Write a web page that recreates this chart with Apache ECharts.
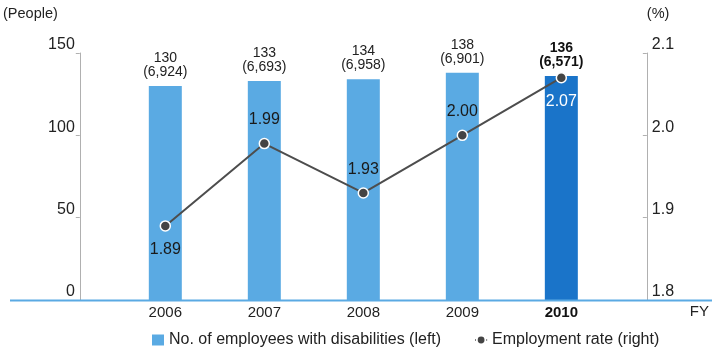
<!DOCTYPE html>
<html>
<head>
<meta charset="utf-8">
<script src="https://cdn.jsdelivr.net/npm/echarts@6/dist/echarts.min.js"></script>
<style>
  html, body { margin: 0; padding: 0; background: #fff; }
  #chart { width: 712px; height: 356px; }
</style>
</head>
<body>
<div id="chart"></div>
<script>
// Fiscal years shown on the category axis
const fiscalYears = ['2006', '2007', '2008', '2009', '2010'];
// Number of employees with disabilities (left axis)
const disabledEmployees = [130, 133, 134, 138, 136];
// Total headcount shown in parentheses under each bar value
const totalEmployees = [6924, 6693, 6958, 6901, 6571];
// Employment rate of people with disabilities, % (right axis)
const employmentRate = [1.89, 1.99, 1.93, 2.00, 2.07];

const FONT = '"Liberation Sans", Arial, sans-serif';
const LIGHT_BLUE = '#5aaae3';
const DARK_BLUE = '#1a74c9';
const lastIdx = fiscalYears.length - 1;
// Where each rate label sits relative to its point
const rateLabelSide = ['bottom', 'top', 'top', 'top', 'bottom'];

const fmtThousands = n => n.toLocaleString('en-US');

const chart = echarts.init(document.getElementById('chart'), null, { renderer: 'canvas' });

const option = {
  backgroundColor: '#ffffff',
  animation: false,
  textStyle: { fontFamily: FONT },
  grid: { left: 114, right: 101, top: 53, bottom: 56 },
  legend: {
    left: 147,
    top: 327,
    itemWidth: 12,
    itemHeight: 11,
    itemGap: 33,
    textStyle: { fontFamily: FONT, fontSize: 16, color: '#222' },
    data: [
      { name: 'No. of employees with disabilities (left)', icon: 'rect' },
      { name: 'Employment rate (right)' }
    ]
  },
  xAxis: {
    type: 'category',
    data: fiscalYears,
    boundaryGap: true,
    axisLine: { show: false },
    axisTick: { show: false },
    axisLabel: {
      margin: 5,
      color: '#222',
      fontSize: 15,
      fontFamily: FONT,
      formatter: (v, i) => i === lastIdx ? '{b|' + v + '}' : v,
      rich: { b: { fontWeight: 'bold', fontSize: 15, color: '#111', fontFamily: FONT } }
    },
    name: 'FY',
    nameLocation: 'end',
    nameGap: 79,
    nameTextStyle: { fontSize: 15, color: '#222', fontFamily: FONT, verticalAlign: 'top', padding: [4, 0, 0, 0] }
  },
  yAxis: [
    {
      type: 'value',
      min: 0,
      max: 150,
      interval: 50,
      offset: 36,
      position: 'left',
      splitLine: { show: false },
      axisLine: { show: true, lineStyle: { color: '#b0b0b0', width: 1 } },
      axisTick: { show: true, length: 4, inside: false, lineStyle: { color: '#b0b0b0' } },
      axisLabel: {
        margin: 5,
        verticalAlign: 'bottom',
        color: '#222',
        fontSize: 16,
        fontFamily: FONT
      },
      name: '(People)',
      nameLocation: 'end',
      nameGap: 32,
      nameTextStyle: { align: 'right', fontSize: 14.5, color: '#222', fontFamily: FONT, padding: [0, 22, 0, 0] }
    },
    {
      type: 'value',
      min: 1.8,
      max: 2.1,
      interval: 0.1,
      offset: 36,
      position: 'right',
      splitLine: { show: false },
      axisLine: { show: true, lineStyle: { color: '#b0b0b0', width: 1 } },
      axisTick: { show: true, length: 4, inside: true, lineStyle: { color: '#b0b0b0' } },
      axisLabel: {
        margin: 5,
        verticalAlign: 'bottom',
        color: '#222',
        fontSize: 16,
        fontFamily: FONT,
        formatter: v => v.toFixed(1)
      },
      name: '(%)',
      nameLocation: 'end',
      nameGap: 32,
      nameTextStyle: { align: 'left', fontSize: 14.5, color: '#222', fontFamily: FONT, padding: [0, 0, 0, 0] }
    }
  ],
  series: [
    {
      name: 'No. of employees with disabilities (left)',
      type: 'bar',
      yAxisIndex: 0,
      barWidth: 33,
      itemStyle: { color: LIGHT_BLUE },
      data: disabledEmployees.map((v, i) => ({
        value: v,
        itemStyle: { color: i === lastIdx ? DARK_BLUE : LIGHT_BLUE }
      })),
      label: {
        show: true,
        position: 'top',
        distance: 7,
        lineHeight: 14,
        formatter: p => {
          const tag = p.dataIndex === lastIdx ? 'b' : 'n';
          return '{' + tag + '|' + p.value + '}\n{' + tag + '|(' + fmtThousands(totalEmployees[p.dataIndex]) + ')}';
        },
        rich: {
          n: { fontSize: 14, color: '#222', fontFamily: FONT, lineHeight: 14 },
          b: { fontSize: 14, color: '#111', fontWeight: 'bold', fontFamily: FONT, lineHeight: 14 }
        }
      }
    },
    {
      name: 'Employment rate (right)',
      type: 'line',
      yAxisIndex: 1,
      symbol: 'circle',
      symbolSize: 10,
      lineStyle: { color: '#4d4d4d', width: 2 },
      itemStyle: { color: '#444', borderColor: '#fff', borderWidth: 1.5 },
      data: employmentRate.map((v, i) => ({
        value: v,
        label: {
          position: rateLabelSide[i],
          color: i === lastIdx ? '#ffffff' : '#1a1a1a'
        }
      })),
      label: {
        show: true,
        distance: 10,
        fontSize: 16,
        fontFamily: FONT,
        formatter: p => p.value.toFixed(2)
      },
      z: 5
    }
  ],
  graphic: [
    {
      type: 'line',
      shape: { x1: 10, y1: 300.5, x2: 712, y2: 300.5 },
      style: { stroke: LIGHT_BLUE, lineWidth: 2 },
      z: 10
    }
  ]
};

chart.setOption(option);
</script>
</body>
</html>
